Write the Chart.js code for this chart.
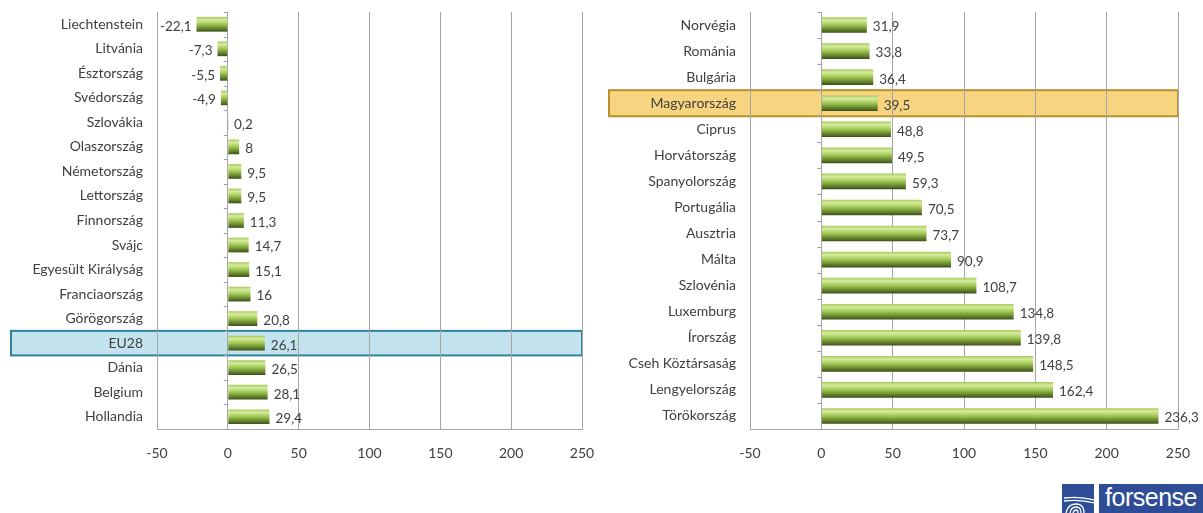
<!DOCTYPE html>
<html>
<head>
<meta charset="utf-8">
<script src="https://cdn.jsdelivr.net/npm/chart.js@4/dist/chart.umd.min.js"></script>
<style>
  html, body { margin: 0; padding: 0; background: #fff; }
  body { width: 1203px; height: 513px; position: relative; overflow: hidden; }
  .panel { position: absolute; top: 0; height: 470px; }
  #leftWrap { left: 0; width: 600px; }
  #rightWrap { left: 600px; width: 603px; }
  .logo { position: absolute; top: 484px; left: 1062px; height: 29px; }
  .logo .icon { position: absolute; left: 0; top: 0; width: 32px; height: 29px; background: #2f4d96; overflow: hidden; }
  .logo .txt { position: absolute; left: 37px; top: 0; width: 104px; height: 29px; background: #2f4d96; color: #fff;
    font-family: "Liberation Sans", Arial, sans-serif; font-size: 25px; line-height: 27px; text-align: center; letter-spacing: -0.5px; }
</style>
</head>
<body>
<div class="panel" id="leftWrap"><canvas id="leftChart"></canvas></div>
<div class="panel" id="rightWrap"><canvas id="rightChart"></canvas></div>
<div class="logo">
  <div class="icon">
    <svg width="32" height="29" viewBox="0 0 32 29">
      <g fill="none" stroke="#fff" stroke-width="1.3">
        <path d="M2 14 Q18 12 32 16"/>
        <path d="M2 17 Q18 15 32 19"/>
        <path d="M4 29 Q6 20 14 20 Q22 20 22 29"/>
        <path d="M8 29 Q9 23 14 23 Q19 23 19 29"/>
        <path d="M11 29 Q12 26 14 26 Q16 26 16 29"/>
      </g>
    </svg>
  </div>
  <div class="txt">forsense</div>
</div>
<script>
// bal oldali panel
const leftLabels = ['Liechtenstein', 'Litvánia', 'Észtország', 'Svédország', 'Szlovákia', 'Olaszország', 'Németország', 'Lettország', 'Finnország', 'Svájc', 'Egyesült Királyság', 'Franciaország', 'Görögország', 'EU28', 'Dánia', 'Belgium', 'Hollandia'];
const leftValues = [-22.1, -7.3, -5.5, -4.9, 0.2, 8, 9.5, 9.5, 11.3, 14.7, 15.1, 16, 20.8, 26.1, 26.5, 28.1, 29.4];

// jobb oldali panel
const rightLabels = ['Norvégia', 'Románia', 'Bulgária', 'Magyarország', 'Ciprus', 'Horvátország', 'Spanyolország', 'Portugália', 'Ausztria', 'Málta', 'Szlovénia', 'Luxemburg', 'Írország', 'Cseh Köztársaság', 'Lengyelország', 'Törökország'];
const rightValues = [31.9, 33.8, 36.4, 39.5, 48.8, 49.5, 59.3, 70.5, 73.7, 90.9, 108.7, 134.8, 139.8, 148.5, 162.4, 236.3];

const xTicks = [-50, 0, 50, 100, 150, 200, 250];

const FONT = 'Lato, "Open Sans", sans-serif';
const TEXT = '#404040';
const GRID = '#a6a6a6';

function fmt(v) {
    return String(v).replace('.', ',');
}

function barGradient(context) {
    const chart = context.chart;
    const ys = chart.scales.y;
    if (!ys || !chart.chartArea || context.dataIndex === undefined) return '#8db33d';
    const y = ys.getPixelForValue(context.dataIndex);
    const h = (ys.height / chart.data.labels.length) * 0.6 / 2;
    const g = chart.ctx.createLinearGradient(0, y - h, 0, y + h);
    g.addColorStop(0, '#a6c95a');
    g.addColorStop(0.2, '#d6ec9f');
    g.addColorStop(0.5, '#9fc651');
    g.addColorStop(0.82, '#5f7d2b');
    g.addColorStop(1, '#3b4d18');
    return g;
}

// kiemelt sor háttere + kis jelölők a 0 tengelyen
const extrasPlugin = {
    id: 'extras',
    beforeDraw(chart, args, o) {
        if (o.highlight === undefined) return;
        const ys = chart.scales.y;
        const band = ys.height / chart.data.labels.length;
        const yc = ys.getPixelForValue(o.highlight);
        const ctx = chart.ctx;
        ctx.save();
        ctx.fillStyle = o.fill;
        ctx.strokeStyle = o.stroke;
        ctx.lineWidth = 2;
        ctx.fillRect(o.left, yc - band / 2, chart.chartArea.right - o.left, band);
        ctx.strokeRect(o.left, yc - band / 2, chart.chartArea.right - o.left, band);
        ctx.restore();
    },
    afterDatasetsDraw(chart) {
        const ctx = chart.ctx;
        const xs = chart.scales.x, ys = chart.scales.y;
        const x0 = xs.getPixelForValue(0);
        const n = chart.data.labels.length;
        const band = ys.height / n;
        ctx.save();
        ctx.strokeStyle = '#8ea0b8';
        ctx.lineWidth = 1;
        ctx.beginPath();
        for (let i = 0; i <= n; i++) {
            const y = Math.round(ys.top + i * band) + 0.5;
            ctx.moveTo(x0 - 4, y);
            ctx.lineTo(x0, y);
        }
        ctx.stroke();
        // értékcímkék
        ctx.font = '13.5px ' + FONT;
        ctx.fillStyle = TEXT;
        ctx.textBaseline = 'middle';
        const meta = chart.getDatasetMeta(0);
        const data = chart.data.datasets[0].data;
        meta.data.forEach((bar, i) => {
            const v = data[i];
            if (v < 0) {
                ctx.textAlign = 'right';
                ctx.fillText(fmt(v), bar.x - 5, bar.y + 2);
            } else {
                ctx.textAlign = 'left';
                ctx.fillText(fmt(v), Math.max(bar.x, x0) + 6, bar.y + 2);
            }
        });
        ctx.restore();
    }
};

function makeChart(id, labels, values, yWidth, rightPad, highlight) {
    return new Chart(document.getElementById(id), {
        type: 'bar',
        data: {
            labels: labels,
            datasets: [{
                data: values,
                backgroundColor: barGradient,
                borderWidth: 0,
                barPercentage: 0.6,
                categoryPercentage: 1
            }]
        },
        options: {
            indexAxis: 'y',
            responsive: true,
            maintainAspectRatio: false,
            animation: false,
            layout: { padding: { top: 12, right: rightPad, left: 0, bottom: 0 } },
            plugins: {
                legend: { display: false },
                tooltip: { enabled: false },
                extras: highlight
            },
            scales: {
                x: {
                    min: -50,
                    max: 250,
                    afterBuildTicks: s => { s.ticks = xTicks.map(v => ({ value: v })); },
                    afterFit: s => { s.height = 41; s.paddingLeft = 0; s.paddingRight = 0; },
                    grid: { color: GRID, drawTicks: false },
                    border: { color: GRID },
                    ticks: { color: TEXT, font: { family: FONT, size: 14 }, padding: 16, callback: v => fmt(v) }
                },
                y: {
                    afterFit: s => { s.width = yWidth; s.paddingTop = 0; s.paddingBottom = 0; },
                    grid: { display: false, drawTicks: false },
                    border: { color: GRID },
                    ticks: { color: TEXT, font: { family: FONT, size: 14 }, padding: 14, autoSkip: false }
                }
            }
        },
        plugins: [extrasPlugin]
    });
}

makeChart('leftChart', leftLabels, leftValues, 157, 18, { highlight: 13, left: 11, fill: '#c3e3ee', stroke: '#31849b' });
makeChart('rightChart', rightLabels, rightValues, 150, 25, { highlight: 3, left: 9, fill: '#f7d47f', stroke: '#b8902a' });
</script>
</body>
</html>
